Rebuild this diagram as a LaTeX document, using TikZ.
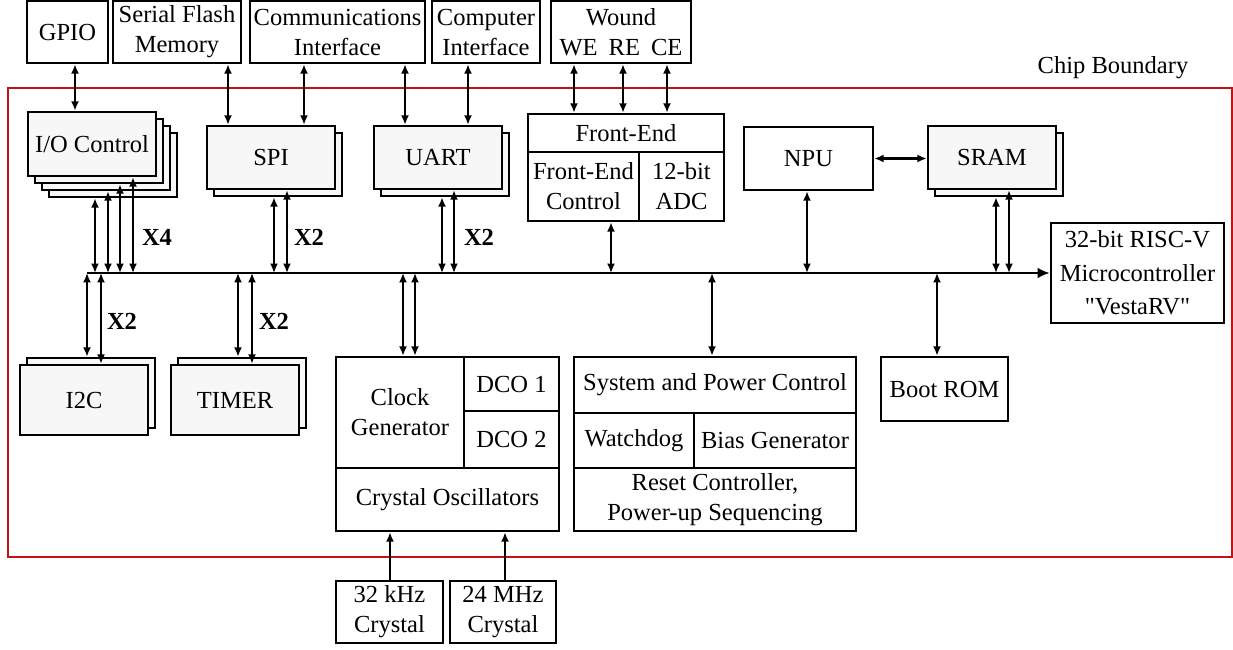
\documentclass[tikz,border=0pt]{standalone}
\usepackage{fontspec}
\newfontfamily\chipfont{Liberation Serif}
\usepackage{tikz}
\usetikzlibrary{arrows.meta}
\definecolor{chipred}{RGB}{192,20,20}

\tikzset{
  box/.style n args={4}{minimum width={(#3-#1)*0.75pt}, minimum height={(#4-#2)*0.75pt},
    at={({(#1+#3)/2},{(#2+#4)/2})}},
  blk/.style={draw, line width=1.9pt, fill=white, inner sep=0pt, align=center},
  stk/.style={blk, fill=black!3},
  bi/.style={line width=1.7pt, {Latex[length=7pt,width=6pt]}-{Latex[length=7pt,width=6pt]}},
  uni/.style={line width=1.7pt, -{Latex[length=7pt,width=6pt]}},
  busline/.style={line width=1.7pt, -{Latex[length=9pt,width=8pt]}},
  mult/.style={font=\chipfont\bfseries\fontsize{18.4}{22}\selectfont}
}

\begin{document}
\begin{tikzpicture}[x=0.75pt,y=-0.75pt,
  font=\chipfont\fontsize{18.4}{22.5}\selectfont]
\useasboundingbox (0,0) rectangle (1233,650);

% chip boundary
\draw [chipred, line width=1.6pt] (8,88) rectangle (1232,557);
\node (chiplbl) at (1113,68) {Chip Boundary};

% off-chip blocks
\node [blk, box={27}{1}{108}{63}] (gpio) {GPIO};
\node [blk, box={113}{1}{241}{63}] (flash) {Serial Flash\\Memory};
\node [blk, box={250}{1}{425}{63}] (comm) {Communications\\Interface};
\node [blk, box={432}{1}{540}{63}] (comp) {Computer\\Interface};
\node [blk, box={551}{1}{691}{63}] (wound) {Wound\\WE\hspace{0.45em}RE\hspace{0.45em}CE};
\node [blk, box={336}{581}{443}{643}] (x32) {32 kHz\\Crystal};
\node [blk, box={450}{581}{556}{643}] (x24) {24 MHz\\Crystal};

% peripherals (stacked = several instances)
\node [stk, box={49}{133}{177}{197}] (io3) {};
\node [stk, box={42}{126}{170}{190}] (io2) {};
\node [stk, box={35}{119}{163}{183}] (io1) {};
\node [stk, box={28}{112}{156}{176}] (io0) {I/O Control};
\node [stk, box={214}{133}{342}{196}] (spi1) {};
\node [stk, box={207}{126}{335}{189}] (spi0) {SPI};
\node [stk, box={381}{133}{509}{196}] (uart1) {};
\node [stk, box={374}{126}{502}{189}] (uart0) {UART};
\node [stk, box={935}{133}{1063}{196}] (sram1) {};
\node [stk, box={928}{126}{1056}{189}] (sram0) {SRAM};
\node [stk, box={27}{358}{155}{428}] (i2c1) {};
\node [stk, box={20}{365}{148}{435}] (i2c0) {I2C};
\node [stk, box={178}{358}{306}{428}] (tim1) {};
\node [stk, box={171}{365}{299}{435}] (tim0) {TIMER};

\node [blk, box={528}{114}{724}{152}] (fe) {Front-End};
\node [blk, box={528}{152}{639}{221}] (fec) {Front-End\\Control};
\node [blk, box={639}{152}{724}{221}] (adc) {12-bit\\ADC};
\node [blk, box={744}{127}{873}{190}] (npu) {NPU};
\node [blk, box={1051}{223}{1224}{323}, font=\chipfont\fontsize{18.4}{25}\selectfont] (risc) {32-bit RISC-V\\Microcontroller\\"VestaRV"};
\node [blk, box={881}{357}{1008}{421}] (boot) {Boot ROM};

\node [blk, box={336}{357}{464}{468}] (clk) {Clock\\Generator};
\node [blk, box={464}{357}{559}{411}] (dco1) {DCO 1};
\node [blk, box={464}{411}{559}{468}] (dco2) {DCO 2};
\node [blk, box={336}{468}{559}{531}] (xosc) {Crystal Oscillators};
\node [blk, box={574}{357}{856}{413}] (spc) {System and Power Control};
\node [blk, box={574}{413}{694}{468}] (wd) {Watchdog};
\node [blk, box={694}{413}{856}{468}] (bias) {Bias Generator};
\node [blk, box={574}{468}{856}{531}] (rst) {Reset Controller,\\Power-up Sequencing};

% system bus
\coordinate (bus) at (87,273);
\draw [busline] (bus) -- (bus -| risc.west);

% pads to peripherals
\draw [bi] (gpio.south -| 75,0) -- (io0.north -| 75,0);
\draw [bi] (flash.south -| 228,0) -- (spi0.north -| 228,0);
\draw [bi] (comm.south -| 304,0) -- (spi0.north -| 304,0);
\draw [bi] (comm.south -| 405,0) -- (uart0.north -| 405,0);
\draw [bi] (comp.south -| 468,0) -- (uart0.north -| 468,0);
\foreach \x in {574,623,667}
  \draw [bi] (wound.south -| \x,0) -- (fe.north -| \x,0);
\draw [uni] (x32.north -| 390,0) -- (xosc.south -| 390,0);
\draw [uni] (x24.north -| 505,0) -- (xosc.south -| 505,0);

% peripherals to bus
\foreach \x/\n in {95/io3,108/io2,120/io1,133/io0, 274/spi1,287/spi0, 442/uart1,454/uart0,
    611/fec, 807/npu, 996/sram1,1009/sram0}
  \draw [bi] (\n.south -| \x,0) -- (bus -| \x,0);
\foreach \x/\n in {87/i2c1,101/i2c0, 238/tim1,252/tim0, 403/clk,415/clk,
    712/spc, 937/boot}
  \draw [bi] (bus -| \x,0) -- (\n.north -| \x,0);
\draw [bi] (npu.east) -- (npu.east -| sram0.west);

\node [mult] (xio) at (157,237) {X4};
\node [mult] (xspi) at (309,237) {X2};
\node [mult] (xuart) at (479,237) {X2};
\node [mult] (xi2c) at (122,321) {X2};
\node [mult] (xtim) at (274,321) {X2};
\end{tikzpicture}
\end{document}
